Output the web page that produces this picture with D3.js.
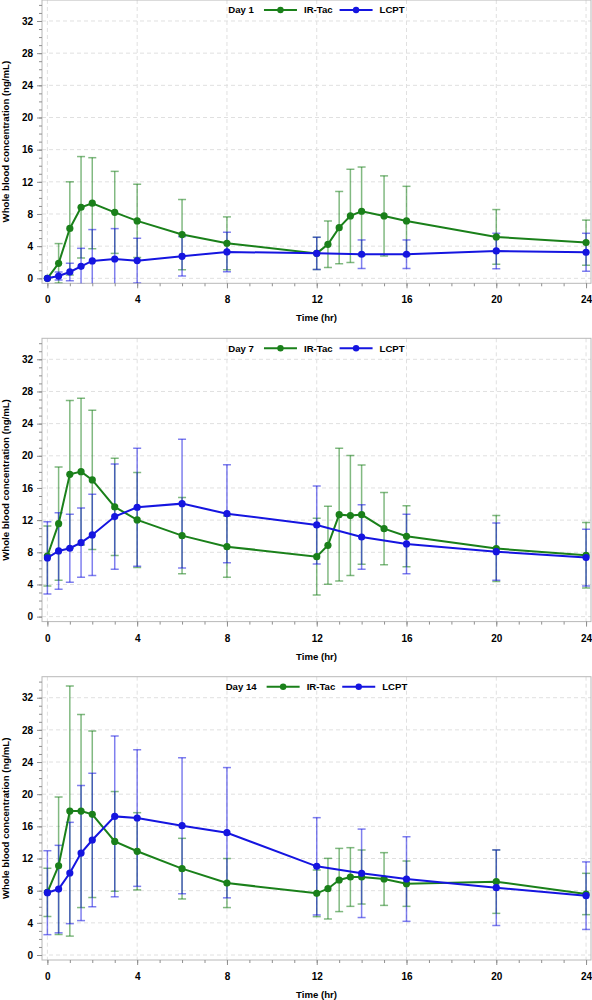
<!DOCTYPE html>
<html><head><meta charset="utf-8">
<script src="https://cdn.jsdelivr.net/npm/d3@7"></script>
<style>body{margin:0;background:#fff}svg{display:block}</style>
</head><body><svg id="c" width="592" height="1000"></svg>
<script>
// ---- data ----
const irTimes = [0,0.5,1,1.5,2,3,4,6,8,12,12.5,13,13.5,14,15,16,20,24];
const lcptTimes = [0,0.5,1,1.5,2,3,4,6,8,12,14,16,20,24];

const day1IrMean = [0,1.87,6.2,8.84,9.34,8.2,7.14,5.44,4.36,3.1,4.23,6.3,7.76,8.34,7.76,7.14,5.15,4.44];
const day1IrSd   = [0,2.45,5.8,6.3,5.66,5.1,4.56,4.36,3.28,2.0,2.9,4.5,5.8,5.5,4.98,4.3,3.4,2.8];
const day1LcMean = [0,0.29,0.79,1.49,2.16,2.4,2.2,2.74,3.28,3.11,2.99,2.99,3.4,3.24];
const day1LcSd   = [0,0.5,1.08,2.24,3.9,3.78,2.78,2.45,2.45,2.0,1.78,1.78,2.2,2.36];

const day7IrMean = [7.54,11.56,17.7,18.03,17.0,13.64,12.02,10.07,8.7,7.46,8.87,12.68,12.56,12.68,10.94,9.99,8.46,7.63];
const day7IrSd   = [3.73,7.05,9.16,9.12,8.66,6.05,5.9,4.73,3.8,4.77,4.85,8.25,7.46,6.18,4.48,3.8,4.1,4.06];
const day7LcMean = [7.3,8.17,8.5,9.2,10.16,12.44,13.6,14.05,12.8,11.4,9.9,9.04,8.08,7.34];
const day7LcSd   = [4.5,4.76,4.23,4.3,5.05,6.55,7.33,8.0,6.1,4.85,4.0,3.7,3.57,3.52];

const day14IrMean = [7.79,11.1,17.9,17.9,17.5,14.13,12.9,10.74,8.95,7.67,8.25,9.33,9.7,9.7,9.45,8.87,9.12,7.59];
const day14IrSd   = [3.0,8.55,15.55,12.0,10.35,6.2,4.8,3.77,3.05,2.9,3.77,3.93,3.65,3.36,3.28,2.82,3.94,2.57];
const day14LcMean = [7.75,8.2,10.2,12.68,14.3,17.24,17.04,16.08,15.21,11.03,10.16,9.45,8.37,7.38];
const day14LcSd   = [5.22,5.44,6.3,8.4,8.3,10.0,8.5,8.46,8.1,6.05,5.5,5.26,4.7,4.2];

const dayLabels = ["Day 1","Day 7","Day 14"];
const seriesNames = ["IR-Tac","LCPT"];
const yTicks = [0,4,8,12,16,20,24,28,32];
const xTicks = [0,4,8,12,16,20,24];
const xTitle = "Time (hr)";
const yTitle = "Whole blood concentration (ng/mL)";

// ---- layout ----
const svg = d3.select("#c");
const L = 42, R = 591, H = 283.3;
const panelTops = [0, 338.3, 676.7];
const GREEN = "#1a801a", BLUE = "#1515e0";
const FONT = "'Liberation Sans', Arial, sans-serif";
const TICKFS = 10, TITLEFS = 9.6;

const x = d3.scaleLinear().domain([-0.24, 24.22]).range([L, R]);

const panels = [
  {ir: day1IrMean, irSd: day1IrSd, lc: day1LcMean, lcSd: day1LcSd},
  {ir: day7IrMean, irSd: day7IrSd, lc: day7LcMean, lcSd: day7LcSd},
  {ir: day14IrMean, irSd: day14IrSd, lc: day14LcMean, lcSd: day14LcSd}
];

panels.forEach((p, i) => {
  const top = panelTops[i];
  const y = d3.scaleLinear().domain([-0.62, 34.61]).range([top + H, top]);
  const g = svg.append("g");

  // grid
  g.selectAll(".hg").data(yTicks).enter().append("line")
    .attr("x1", L).attr("x2", R).attr("y1", d => y(d)).attr("y2", d => y(d))
    .attr("stroke", "#e0e0e0").attr("stroke-dasharray", "4,3");
  g.selectAll(".vg").data(xTicks).enter().append("line")
    .attr("y1", top).attr("y2", top + H).attr("x1", d => x(d)).attr("x2", d => x(d))
    .attr("stroke", "#e0e0e0").attr("stroke-dasharray", "4,3");

  // frame
  g.append("rect").attr("x", L).attr("y", top).attr("width", R - L).attr("height", H)
    .attr("fill", "none").attr("stroke", "#b8b8b8").attr("stroke-width", 1);

  // axes
  const yAxis = d3.axisLeft(y).tickValues(yTicks).tickSize(5).tickPadding(4);
  const yMinor = d3.axisLeft(y).tickValues(d3.range(0, 35, 1)).tickSize(3).tickFormat("");
  const xAxis = d3.axisBottom(x).tickValues(xTicks).tickSize(5).tickPadding(8);
  const xMinor = d3.axisBottom(x).tickValues(d3.range(0, 25, 1)).tickSize(3).tickFormat("");

  const styleAxis = sel => {
    sel.select(".domain").remove();
    sel.selectAll("line").attr("stroke", "#909090");
    sel.selectAll("text").attr("font-family", FONT).attr("font-weight", "bold")
      .attr("font-size", TICKFS).attr("fill", "#000");
  };
  g.append("g").attr("transform", `translate(${L},0)`).call(yMinor).call(styleAxis);
  g.append("g").attr("transform", `translate(${L},0)`).call(yAxis).call(styleAxis);
  g.append("g").attr("transform", `translate(0,${top + H})`).call(xMinor).call(styleAxis);
  g.append("g").attr("transform", `translate(0,${top + H})`).call(xAxis).call(styleAxis);

  // titles
  g.append("text").attr("x", (L + R) / 2).attr("y", top + H + 38)
    .attr("text-anchor", "middle").attr("font-family", FONT).attr("font-weight", "bold")
    .attr("font-size", TITLEFS).text(xTitle);
  g.append("text").attr("transform", `translate(9,${top + H / 2}) rotate(-90)`)
    .attr("text-anchor", "middle").attr("font-family", FONT).attr("font-weight", "bold")
    .attr("font-size", TITLEFS).text(yTitle);

  // clip
  const clipId = "clip" + i;
  svg.append("clipPath").attr("id", clipId).append("rect")
    .attr("x", L).attr("y", top).attr("width", R - L).attr("height", H);
  const pg = g.append("g").attr("clip-path", `url(#${clipId})`);

  const series = [
    {t: irTimes, m: p.ir, sd: p.irSd, c: GREEN},
    {t: lcptTimes, m: p.lc, sd: p.lcSd, c: BLUE}
  ];
  // error bars
  series.forEach(s => {
    const d = s.t.map((t, k) => ({t, m: s.m[k], sd: s.sd[k]})).filter(e => e.sd > 0);
    const eg = pg.append("g").attr("stroke", s.c).attr("stroke-opacity", 0.55).attr("stroke-width", 1.5);
    eg.selectAll(".v").data(d).enter().append("line")
      .attr("x1", e => x(e.t)).attr("x2", e => x(e.t))
      .attr("y1", e => y(e.m - e.sd)).attr("y2", e => y(e.m + e.sd));
    eg.selectAll(".u").data(d).enter().append("line")
      .attr("x1", e => x(e.t) - 4).attr("x2", e => x(e.t) + 4)
      .attr("y1", e => y(e.m + e.sd)).attr("y2", e => y(e.m + e.sd));
    eg.selectAll(".l").data(d).enter().append("line")
      .attr("x1", e => x(e.t) - 4).attr("x2", e => x(e.t) + 4)
      .attr("y1", e => y(e.m - e.sd)).attr("y2", e => y(e.m - e.sd));
  });
  // lines + markers
  series.forEach(s => {
    const d = s.t.map((t, k) => ({t, m: s.m[k]}));
    pg.append("path").datum(d)
      .attr("d", d3.line().x(e => x(e.t)).y(e => y(e.m)))
      .attr("fill", "none").attr("stroke", s.c).attr("stroke-width", 2);
    pg.selectAll(null).data(d).enter().append("circle")
      .attr("cx", e => x(e.t)).attr("cy", e => y(e.m)).attr("r", 3.6).attr("fill", s.c);
  });

  // legend
  const lg = g.append("g");
  const ly = top + 10;
  let cx = 0;
  const tDay = lg.append("text").attr("x", cx).attr("y", ly).attr("dy", "0.35em")
    .attr("font-family", FONT).attr("font-weight", "bold").attr("font-size", TITLEFS).text(dayLabels[i]);
  cx += tDay.node().getComputedTextLength() + 10;
  [GREEN, BLUE].forEach((c, k) => {
    lg.append("line").attr("x1", cx).attr("x2", cx + 33).attr("y1", ly).attr("y2", ly)
      .attr("stroke", c).attr("stroke-width", 2);
    lg.append("circle").attr("cx", cx + 16.5).attr("cy", ly).attr("r", 3.2).attr("fill", c);
    cx += 33 + 7;
    const tt = lg.append("text").attr("x", cx).attr("y", ly).attr("dy", "0.35em")
      .attr("font-family", FONT).attr("font-weight", "bold").attr("font-size", TITLEFS).text(seriesNames[k]);
    cx += tt.node().getComputedTextLength() + 7;
  });
  const w = cx - 7;
  lg.attr("transform", `translate(${(L + R) / 2 - w / 2},0)`);
});
</script></body></html>
